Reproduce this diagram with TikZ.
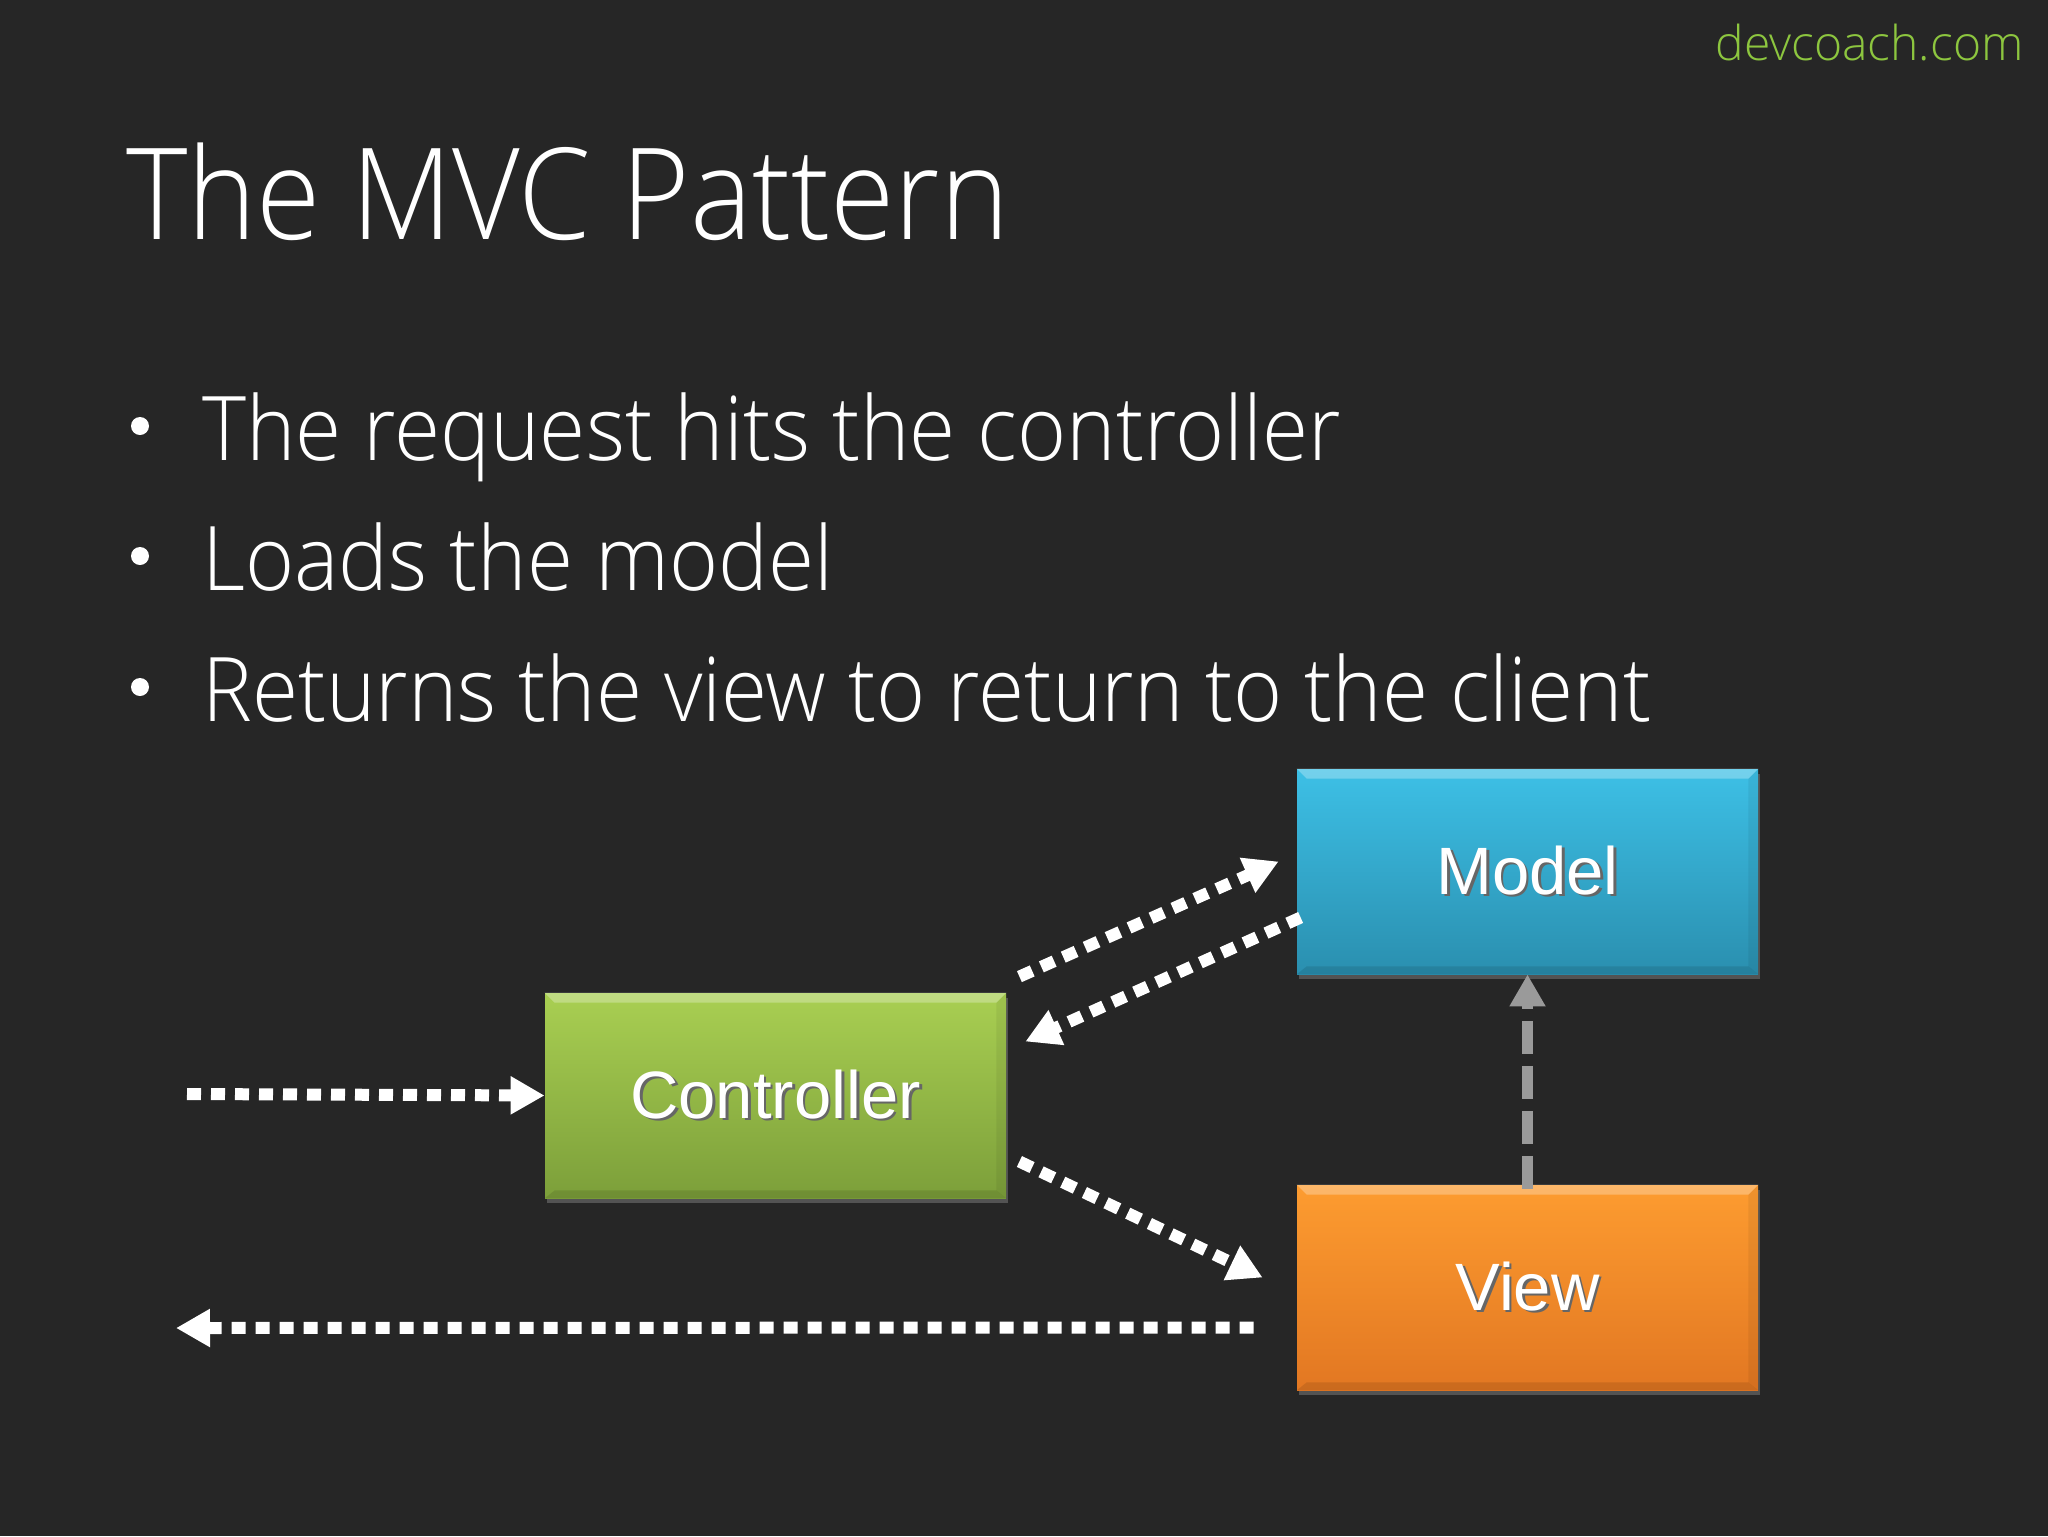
\documentclass[tikz,border=0pt]{standalone}
\usepackage{fontspec}
\usetikzlibrary{arrows.meta,shadows}
\IfFontExistsTF{Open Sans Light}{\setmainfont{Open Sans Light}\newfontfamily\narrowlight{Open Sans Light}[FakeStretch=0.92]\newfontfamily\bulletlight{Open Sans Light}[FakeStretch=0.94]}{%
  \setmainfont{Open Sans}\newfontfamily\narrowlight{Open Sans}[FakeStretch=0.92]\newfontfamily\bulletlight{Open Sans}[FakeStretch=0.94]}
\newfontfamily\boxfont{Liberation Sans}
\definecolor{bgc}{HTML}{262626}
\definecolor{webgreen}{HTML}{8DC63F}
\definecolor{mtop}{HTML}{3DC0E6}
\definecolor{mbot}{HTML}{2A8FAF}
\definecolor{ctop}{HTML}{A9CF52}
\definecolor{cbot}{HTML}{7C9F3A}
\definecolor{vtop}{HTML}{FD9C30}
\definecolor{vbot}{HTML}{E27722}
\definecolor{grayarrow}{HTML}{9A9A9A}
\newcommand{\shtext}[1]{\makebox[0pt][l]{\raisebox{-1.4pt}{\hspace{1.4pt}\textcolor{black!60}{#1}}}\textcolor{white}{#1}}
\tikzset{
  box/.style={rectangle, minimum width=230.5pt, minimum height=102.5pt, inner sep=0pt,
    drop shadow={opacity=0.5, shadow xshift=1pt, shadow yshift=-2.5pt},
    font=\boxfont\fontsize{33.5}{40}\selectfont},
  flow/.style={draw=white, line width=6pt, dash pattern=on 7pt off 5pt,
    -{Triangle[length=17pt,width=18pt]}},
  dep/.style={draw=grayarrow, line width=5.5pt, dash pattern=on 16.5pt off 6pt,
    -{Triangle[length=16pt,width=17pt]}},
  bullettext/.style={anchor=base west, text=white, inner sep=0pt, font=\bulletlight\fontsize{44.6}{52}\selectfont},
  bulletdot/.style={circle, fill=white, minimum size=9pt, inner sep=0pt},
}
\begin{document}
\begin{tikzpicture}[x=0.5pt,y=-0.5pt]
\fill[bgc] (0,0) rectangle (2048,1536);
\useasboundingbox (0,0) rectangle (2048,1536);

\node[anchor=base east, text=webgreen, inner sep=0pt, font=\fontsize{24}{30}\selectfont] (site) at (2024,61) {devcoach.com};
\node[anchor=base west, text=white, inner sep=0pt, font=\narrowlight\fontsize{63.6}{76}\selectfont] (title) at (126,239) {The MVC Pattern};

\node[bulletdot] (b1) at (140,426) {};
\node[bullettext] (t1) at (202,460) {The request hits the controller};
\node[bulletdot] (b2) at (140,556) {};
\node[bullettext] (t2) at (202,590) {Loads the model};
\node[bulletdot] (b3) at (140,687) {};
\node[bullettext] (t3) at (202,721) {Returns the view to return to the client};

\node[box, top color=mtop, bottom color=mbot] (model) at (1527.5,871.5) {\shtext{Model}};
\node[box, top color=ctop, bottom color=cbot] (ctrl) at (775.5,1095.5) {\shtext{Controller}};
\node[box, top color=vtop, bottom color=vbot] (view) at (1527.5,1287.5) {\shtext{View}};

% bevel highlights
\foreach \n in {model,ctrl,view}{
  \fill[white,opacity=0.28] (\n.north west) -- (\n.north east) -- ([xshift=-5pt,yshift=-5pt]\n.north east) -- ([xshift=5pt,yshift=-5pt]\n.north west) -- cycle;
  \fill[black,opacity=0.10] (\n.south west) -- (\n.south east) -- ([xshift=-5pt,yshift=4pt]\n.south east) -- ([xshift=5pt,yshift=4pt]\n.south west) -- cycle;
  \fill[black,opacity=0.06] (\n.north east) -- (\n.south east) -- ([xshift=-5pt,yshift=4pt]\n.south east) -- ([xshift=-5pt,yshift=-5pt]\n.north east) -- cycle;
}

\coordinate (in) at (187,1094);
\coordinate (out) at (176,1328);

\draw[flow] (in) -- (ctrl.west);
\draw[flow] ([xshift=6.5pt,yshift=8pt]ctrl.north east) -- ([xshift=-9pt,yshift=5pt]model.west);
\draw[flow] ([xshift=2pt,yshift=-23pt]model.west) -- ([xshift=9.5pt,yshift=27pt]ctrl.east);
\draw[flow] ([xshift=6.5pt,yshift=-33pt]ctrl.east) -- ([xshift=-17pt,yshift=5pt]view.west);
\draw[flow] ([xshift=-21.5pt,yshift=-20pt]view.west) -- (out);
\draw[dep] ([yshift=-2pt]view.north) -- (model.south);
\end{tikzpicture}
\end{document}
